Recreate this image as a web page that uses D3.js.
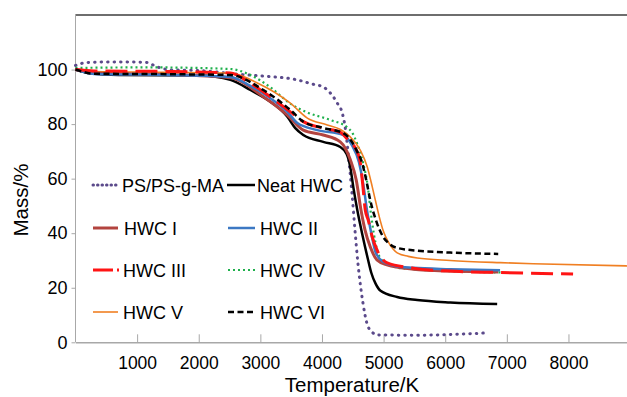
<!DOCTYPE html>
<html>
<head>
<meta charset="utf-8">
<script src="https://cdn.jsdelivr.net/npm/d3@7"></script>
<style>
  html, body { margin: 0; padding: 0; background: #fff; }
  svg { display: block; }
  text { font-family: "Liberation Sans", Arial, Helvetica, sans-serif; fill: #000; }
</style>
</head>
<body>
<svg id="chart" width="627" height="397"></svg>
<script>
// ---- data (Temperature, Mass %) ----
const xTicks = [1000, 2000, 3000, 4000, 5000, 6000, 7000, 8000];
const yTicks = [0, 20, 40, 60, 80, 100];

const psData = [[0,101.5],[190,102.6],[700,102.8],[1160,102.6],[1300,101.2],[1530,99.9],[2027,99.6],[2676,98.2],[3049,97.6],[3600,96.2],[3859,94.6],[4021,93.6],[4135,91.4],[4248,87.7],[4330,84],[4378,78.6],[4435,67],[4485,55.1],[4535,41.2],[4583,29.1],[4665,14.4],[4728,7.1],[4810,3.8],[4905,2.7],[5586,2.6],[6235,3.0],[6640,3.4]];
const neatData = [[0,100],[243,98.6],[700,98],[2027,97.8],[2513,96.2],[2838,92.5],[3162,88.2],[3438,82.7],[3567,78.5],[3697,76.0],[4021,73.5],[4297,71.6],[4400,69],[4459,64.3],[4508,57],[4573,48.5],[4660,39],[4740,31],[4800,25.5],[4870,21.5],[4945,19],[5221,16.6],[5546,15.5],[6081,14.6],[6843,14.0]];
const hwc1Data = [[0,100],[400,98.6],[1500,98.2],[2513,97.0],[3049,90.0],[3438,83.3],[3697,77.8],[4021,76.0],[4297,73.5],[4459,67],[4556,59.5],[4633,48.5],[4700,41],[4783,35],[4892,30.2],[5054,28.4],[5481,26.8],[6081,26.1],[6860,25.8]];
const hwc2Data = [[0,100],[300,98.4],[1500,98.0],[2513,97.3],[2838,94],[3162,89.5],[3438,84.5],[3600,80.4],[3924,77.8],[4346,76.0],[4480,72.5],[4600,66],[4670,58],[4730,48.5],[4800,40],[4870,33],[4994,29.5],[5200,27.9],[5481,27.3],[6081,26.8],[6890,26.4]];
const hwc3Data = [[0,100],[300,99.5],[1500,99.3],[2513,98.7],[2838,95],[3162,90],[3486,84.5],[3697,80.9],[4021,78.5],[4300,77],[4450,73.5],[4560,70.5],[4621,66],[4665,57],[4702,48.5],[4751,44.8],[4816,38.6],[4900,33.5],[5059,29.1],[5481,27.2],[6081,26.1],[6892,25.6],[8075,25.0]];
const hwc4Data = [[0,100.6],[1200,100.8],[2513,100.2],[2838,98],[3162,93.5],[3486,87.5],[3762,84.3],[4135,81.5],[4411,78.8],[4500,76.5],[4566,73.1],[4663,66.1],[4744,57],[4790,48],[4840,40],[4900,33.5],[5000,29.5],[5200,27.5],[5481,26.8],[6081,26.1],[6900,25.6]];
const hwc5Data = [[0,100],[300,99.3],[1500,99],[2513,98.7],[2951,95.1],[3486,87.7],[3762,82.2],[4086,79.7],[4300,78],[4450,75.5],[4621,70.5],[4735,64.3],[4816,57],[4865,52.2],[4930,46],[5000,40.5],[5075,36.8],[5150,34.3],[5221,32.8],[5400,31.5],[5546,30.9],[6081,30.0],[6892,29.2],[7427,28.8],[8951,28.0]];
const hwc6Data = [[0,100],[300,98.5],[1500,98.3],[2513,98.0],[3049,92.5],[3486,85.2],[3697,80.9],[4021,78.6],[4346,76.7],[4500,73],[4580,69.5],[4637,66.8],[4718,59.5],[4783,52.2],[4892,43.7],[4994,38.6],[5100,36],[5221,34.6],[5546,33.6],[6081,32.9],[6860,32.4]];

const seriesNames = ["PS/PS-g-MA","Neat HWC","HWC I","HWC II","HWC III","HWC IV","HWC V","HWC VI"];

// ---- styles ----
const styles = {
  "PS/PS-g-MA": {color:"#5b4a8b", width:3, dash:"0.5,6", cap:"round", legendDash:"0.5,4"},
  "Neat HWC":   {color:"#000000", width:2.5, dash:null, cap:"butt"},
  "HWC I":      {color:"#b3443f", width:3, dash:null, cap:"butt"},
  "HWC II":     {color:"#3c78c3", width:2.5, dash:null, cap:"butt"},
  "HWC III":    {color:"#ff1414", width:3, dash:"22,8", cap:"butt", legendDash:"20,4,2,4"},
  "HWC IV":     {color:"#1fb04c", width:2.2, dash:"2,3", cap:"butt"},
  "HWC V":      {color:"#f07f22", width:1.6, dash:null, cap:"butt"},
  "HWC VI":     {color:"#000000", width:2.5, dash:"6,3.5", cap:"butt"}
};
const dataByName = {
  "PS/PS-g-MA": psData, "Neat HWC": neatData, "HWC I": hwc1Data, "HWC II": hwc2Data,
  "HWC III": hwc3Data, "HWC IV": hwc4Data, "HWC V": hwc5Data, "HWC VI": hwc6Data
};
const drawOrder = ["PS/PS-g-MA","HWC IV","HWC V","Neat HWC","HWC I","HWC II","HWC III","HWC VI"];

const svg = d3.select("#chart");
const x = d3.scaleLinear().domain([0, 8950]).range([75.5, 627]);
const y = d3.scaleLinear().domain([0, 120]).range([342.3, 15]);

// frame
svg.append("line").attr("x1", 75.5).attr("x2", 627).attr("y1", 15).attr("y2", 15)
  .attr("stroke", "#6e6e6e").attr("stroke-width", 2);
svg.append("line").attr("x1", 75.5).attr("x2", 75.5).attr("y1", 14).attr("y2", 342.3)
  .attr("stroke", "#a8a8a8").attr("stroke-width", 1);

// x axis
const xAxis = d3.axisBottom(x).tickValues(xTicks).tickSizeInner(-8).tickSizeOuter(0).tickPadding(14).tickFormat(d3.format("d"));
const gx = svg.append("g").attr("transform", "translate(0,342.3)").call(xAxis);
gx.select(".domain").attr("stroke", "#a8a8a8").attr("stroke-width", 1.5);
gx.selectAll(".tick line").attr("stroke", "#a8a8a8");
gx.selectAll(".tick text").attr("font-size", 17.5).attr("font-family", "Liberation Sans, Arial, sans-serif").attr("fill", "#000");

// y axis
const yAxis = d3.axisLeft(y).tickValues(yTicks).tickSizeInner(4).tickSizeOuter(0).tickPadding(4);
const gy = svg.append("g").attr("transform", "translate(75.5,0)").call(yAxis);
gy.select(".domain").remove();
gy.selectAll(".tick line").attr("stroke", "#a8a8a8");
gy.selectAll(".tick text").attr("font-size", 18).attr("font-family", "Liberation Sans, Arial, sans-serif").attr("fill", "#000");

// axis titles
svg.append("text").attr("x", 352).attr("y", 392).attr("text-anchor", "middle")
  .attr("font-size", 20.5).text("Temperature/K");
svg.append("text").attr("transform", "translate(28,200) rotate(-90)").attr("text-anchor", "middle")
  .attr("font-size", 20.5).text("Mass/%");

// curves
const line = d3.line().x(d => x(d[0])).y(d => y(d[1])).curve(d3.curveMonotoneX);
drawOrder.forEach(name => {
  const s = styles[name];
  svg.append("path").datum(dataByName[name]).attr("d", line)
    .attr("fill", "none").attr("stroke", s.color).attr("stroke-width", s.width)
    .attr("stroke-dasharray", s.dash).attr("stroke-linecap", s.cap).attr("stroke-linejoin", "round");
});

// legend
const legendPos = [
  {name:"PS/PS-g-MA", x1:93, x2:118, tx:122, y:185},
  {name:"Neat HWC",   x1:227, x2:255, tx:257, y:185},
  {name:"HWC I",      x1:93, x2:118, tx:124, y:228},
  {name:"HWC II",     x1:228, x2:255, tx:260, y:228},
  {name:"HWC III",    x1:93, x2:119, tx:123, y:270},
  {name:"HWC IV",     x1:228, x2:255, tx:260, y:270},
  {name:"HWC V",      x1:93, x2:118, tx:123, y:312},
  {name:"HWC VI",     x1:228, x2:255, tx:260, y:312}
];
legendPos.forEach(p => {
  const s = styles[p.name];
  const dash = s.legendDash || s.dash;
  svg.append("line").attr("x1", p.x1).attr("x2", p.x2).attr("y1", p.y).attr("y2", p.y)
    .attr("stroke", s.color).attr("stroke-width", s.width).attr("stroke-dasharray", dash)
    .attr("stroke-linecap", s.cap);
  svg.append("text").attr("x", p.tx).attr("y", p.y + 6.5).attr("font-size", 18).text(p.name);
});
</script>
</body>
</html>
